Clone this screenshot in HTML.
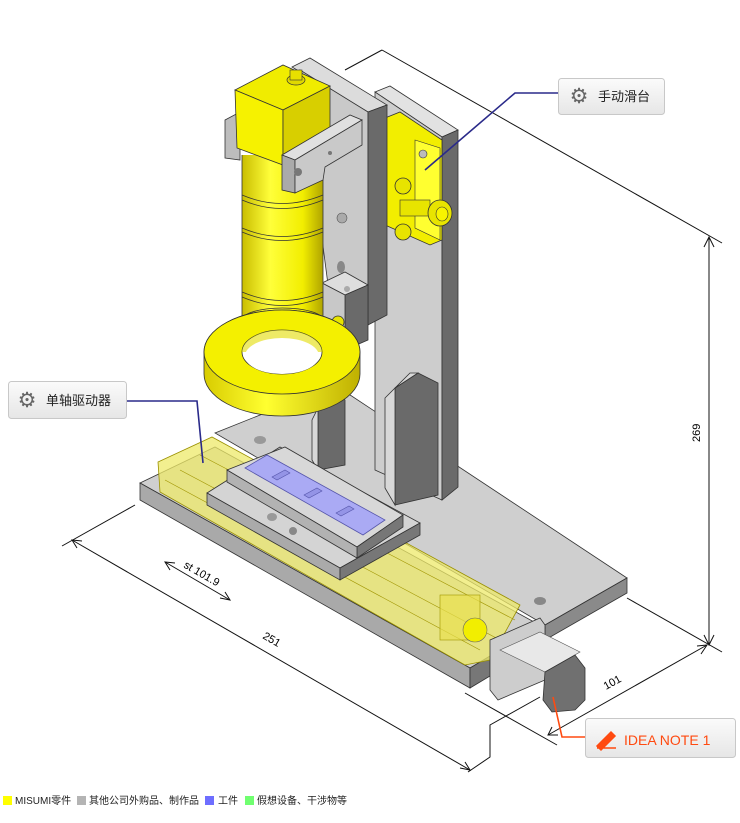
<!DOCTYPE html>
<html><head><meta charset="utf-8"><style>
html,body{margin:0;padding:0;background:#fff}
svg{display:block}
.t{font-family:"Liberation Sans","Noto Sans CJK SC",sans-serif}
</style></head><body>
<svg width="740" height="823" viewBox="0 0 740 823" xmlns="http://www.w3.org/2000/svg">
<defs>
<linearGradient id="cyl" x1="0" x2="1" y1="0" y2="0">
<stop offset="0" stop-color="#c9bd00"/><stop offset="0.35" stop-color="#ffff3a"/><stop offset="0.75" stop-color="#f2ee00"/><stop offset="1" stop-color="#b0a400"/></linearGradient>
<linearGradient id="ring" x1="0" x2="1" y1="0" y2="0">
<stop offset="0" stop-color="#d8cc00"/><stop offset="0.4" stop-color="#ffff30"/><stop offset="1" stop-color="#bfb000"/></linearGradient>
<linearGradient id="btn" x1="0" x2="0" y1="0" y2="1"><stop offset="0" stop-color="#fbfbfb"/><stop offset="1" stop-color="#e6e6e6"/></linearGradient>
</defs>

<g stroke="#111" stroke-width="1" fill="none">
<line x1="345" y1="70" x2="382" y2="50"/>
<line x1="382" y1="50" x2="722" y2="243"/>
<line x1="709" y1="237" x2="709" y2="645"/>
<line x1="627" y1="598" x2="722" y2="652"/>
<line x1="548" y1="735" x2="707" y2="645"/>
<line x1="465" y1="693" x2="557" y2="745"/>
<line x1="135" y1="505" x2="62" y2="546"/>
<line x1="72" y1="540" x2="470" y2="770"/>
<polyline points="540,697 490,725 490,757 468,772"/>
<line x1="165" y1="562" x2="230" y2="600"/>
</g>
<g fill="none" stroke="#111" stroke-width="1">
<polyline points="704,247 709,237 714,247"/><polyline points="704,635 709,645 714,635"/>
<polyline points="697,646 707,645 701,654"/><polyline points="552,727 548,735 558,735"/>
<polyline points="77,548 72,540 82,541"/><polyline points="460,768 470,770 465,762"/>
<polyline points="170,570 165,562 175,563"/><polyline points="220,598 230,600 225,592"/>
</g>
<text class="t" font-size="11" transform="translate(700,442) rotate(-90)">269</text>
<text class="t" font-size="11" transform="translate(606,690) rotate(-29)">101</text>
<text class="t" font-size="11" transform="translate(262,638) rotate(30)">251</text>
<text class="t" font-size="11" transform="translate(183,567) rotate(30)">st 101.9</text>

<polygon points="215,433 335,385 627,578 545,625" fill="#cfcfcf" stroke="#333" stroke-width="0.8"/>
<polygon points="545,625 627,578 627,593 545,640" fill="#8a8a8a" stroke="#333" stroke-width="0.8"/>
<ellipse cx="540" cy="601" rx="6" ry="4" fill="#888"/>
<ellipse cx="260" cy="440" rx="6" ry="4" fill="#999"/>

<polygon points="375,92 390,86 458,130 442,137" fill="#e2e2e2" stroke="#333" stroke-width="0.8"/>
<polygon points="375,92 442,137 442,500 375,470" fill="#cdcdcd" stroke="#333" stroke-width="0.8"/>
<polygon points="442,137 458,130 458,487 442,500" fill="#6a6a6a" stroke="#333" stroke-width="0.8"/>
<polygon points="395,388 418,373 438,383 438,495 395,505" fill="#6a6a6a" stroke="#333" stroke-width="0.8"/>
<polygon points="395,388 418,373 410,373 385,398 385,488 395,505" fill="#d8d8d8" stroke="#333" stroke-width="0.8"/>
<polygon points="318,408 340,395 345,400 345,465 318,470" fill="#6a6a6a" stroke="#333" stroke-width="0.8"/>
<polygon points="318,408 312,420 312,460 318,470" fill="#d8d8d8" stroke="#333" stroke-width="0.8"/>

<polygon points="385,118 400,112 442,140 442,240 430,245 385,225" fill="#f2ee00" stroke="#333" stroke-width="0.8"/>
<polygon points="415,140 440,148 440,240 415,228" fill="#ffff30" stroke="#333" stroke-width="0.6"/>
<circle cx="423" cy="154" r="4" fill="#bbb" stroke="#333" stroke-width="0.6"/>
<circle cx="403" cy="186" r="8" fill="#e8e400" stroke="#333" stroke-width="0.8"/>
<circle cx="403" cy="232" r="8" fill="#e8e400" stroke="#333" stroke-width="0.8"/>
<rect x="400" y="200" width="30" height="16" fill="#e8e400" stroke="#333" stroke-width="0.6"/>
<ellipse cx="440" cy="213" rx="12" ry="13" fill="#e8e400" stroke="#333" stroke-width="0.8"/>
<ellipse cx="442" cy="214" rx="6" ry="7" fill="#f8f400" stroke="#333" stroke-width="0.6"/>

<polygon points="292,67 310,58 387,105 368,112" fill="#dcdcdc" stroke="#333" stroke-width="0.8"/>
<polygon points="300,70 368,112 368,325 330,300" fill="#c9c9c9" stroke="#333" stroke-width="0.8"/>
<polygon points="368,112 387,105 387,315 368,325" fill="#6a6a6a" stroke="#333" stroke-width="0.8"/>
<circle cx="342" cy="218" r="5" fill="#aaa" stroke="#555" stroke-width="0.6"/>
<ellipse cx="341" cy="267" rx="4" ry="6" fill="#888"/>
<polygon points="322,283 345,272 368,285 345,295" fill="#dedede" stroke="#333" stroke-width="0.8"/>
<polygon points="345,295 368,285 368,340 345,350" fill="#6a6a6a" stroke="#333" stroke-width="0.8"/>
<polygon points="322,283 345,295 345,350 322,338" fill="#c8c8c8" stroke="#333" stroke-width="0.8"/>
<circle cx="347" cy="289" r="3" fill="#aaa"/>
<circle cx="338" cy="322" r="6" fill="#e8e400" stroke="#333" stroke-width="0.8"/>

<polygon points="225,120 240,112 240,160 225,158" fill="#bdbdbd" stroke="#333" stroke-width="0.8"/>

<rect x="242" y="155" width="81" height="165" fill="url(#cyl)"/>
<ellipse cx="282.5" cy="320" rx="40.5" ry="12" fill="url(#cyl)" stroke="#333" stroke-width="0.8"/>
<line x1="242" y1="155" x2="242" y2="320" stroke="#333" stroke-width="0.8"/>
<line x1="323" y1="155" x2="323" y2="320" stroke="#333" stroke-width="0.8"/>
<g fill="none" stroke="#333" stroke-width="0.7">
<path d="M242,195 Q282,212 323,195"/><path d="M242,200 Q282,217 323,200"/>
<path d="M242,228 Q282,245 323,228"/><path d="M242,232 Q282,249 323,232"/>
<path d="M242,292 Q282,309 323,292"/><path d="M242,297 Q282,314 323,297"/>
</g>

<path d="M204,352 A78,42 0 0 1 360,352 L360,374 A78,42 0 0 1 204,374 Z" fill="url(#ring)" stroke="#333" stroke-width="0.8"/>
<ellipse cx="282" cy="352" rx="78" ry="42" fill="#f4f000" stroke="#333" stroke-width="0.8"/>
<ellipse cx="282" cy="352" rx="40" ry="22" fill="#fff" stroke="#333" stroke-width="0.8"/>
<path d="M242,352 A40,22 0 0 1 322,352" fill="#e2dc00" stroke="none" opacity="0.6"/>
<ellipse cx="282" cy="356" rx="37" ry="18" fill="#fff"/>

<polygon points="235,90 283,65 330,86 283,110" fill="#f0ec00" stroke="#333" stroke-width="0.8"/>
<polygon points="235,90 283,110 283,165 237,148" fill="#f6f200" stroke="#333" stroke-width="0.8"/>
<polygon points="283,110 330,86 330,140 283,165" fill="#d8cf00" stroke="#333" stroke-width="0.8"/>
<ellipse cx="296" cy="80" rx="9" ry="5" fill="#e0d800" stroke="#333" stroke-width="0.7"/>
<rect x="290" y="70" width="12" height="10" fill="#e8e000" stroke="#333" stroke-width="0.6"/>
<polygon points="282,155 350,115 362,120 295,160" fill="#e0e0e0" stroke="#333" stroke-width="0.8"/>
<polygon points="282,155 295,160 295,193 282,190" fill="#aaa" stroke="#333" stroke-width="0.8"/>
<polygon points="295,160 362,120 362,145 325,167 323,180 295,193" fill="#c9c9c9" stroke="#333" stroke-width="0.8"/>
<circle cx="298" cy="172" r="4" fill="#777"/>
<circle cx="330" cy="153" r="2" fill="#777"/>

<polygon points="140,483 215,447 545,628 470,668" fill="#cfcfcf" stroke="#333" stroke-width="0.8"/>
<polygon points="140,483 470,668 470,688 140,500" fill="#a9a9a9" stroke="#333" stroke-width="0.8"/>
<polygon points="470,668 490,656 490,676 470,688" fill="#777" stroke="#333" stroke-width="0.8"/>
<polygon points="158,462 212,437 520,605 490,660 465,665 160,492" fill="#eeea6a" fill-opacity="0.75" stroke="#9a9000" stroke-width="0.8"/>
<g stroke="#a09500" stroke-width="0.6" fill="none">
<line x1="165" y1="480" x2="480" y2="650"/><line x1="180" y1="470" x2="500" y2="640"/>
<line x1="200" y1="455" x2="515" y2="620"/>
<rect x="440" y="595" width="40" height="45" fill="#e8e050" fill-opacity="0.7"/>
</g>
<ellipse cx="475" cy="630" rx="12" ry="12" fill="#f2ee00" stroke="#666" stroke-width="0.6"/>

<polygon points="207,493 280,447 420,523 340,568" fill="#d4d4d4" stroke="#333" stroke-width="0.8"/>
<polygon points="207,493 340,568 340,580 207,505" fill="#aaa" stroke="#333" stroke-width="0.8"/>
<polygon points="340,568 420,523 420,535 340,580" fill="#777" stroke="#333" stroke-width="0.8"/>
<polygon points="227,470 285,447 403,515 357,547" fill="#d8d8d8" stroke="#333" stroke-width="0.8"/>
<polygon points="357,547 403,515 403,527 357,558" fill="#777" stroke="#333" stroke-width="0.8"/>
<polygon points="227,470 357,547 357,558 227,482" fill="#b2b2b2" stroke="#333" stroke-width="0.8"/>
<polygon points="245,468 267,455 385,520 363,535" fill="#aaaaf4" stroke="#5555aa" stroke-width="0.8"/>
<g fill="#9494e6" stroke="#5555aa" stroke-width="0.6">
<polygon points="272,477 285,470 290,473 277,480"/>
<polygon points="304,495 317,488 322,491 309,498"/>
<polygon points="336,513 349,506 354,509 341,516"/>
</g>
<ellipse cx="272" cy="517" rx="5" ry="4" fill="#999"/>
<circle cx="293" cy="531" r="4" fill="#888"/>

<polygon points="490,640 540,618 545,625 545,680 498,700 490,690" fill="#cdcdcd" stroke="#333" stroke-width="0.8"/>
<polygon points="500,650 540,632 580,652 545,672" fill="#e8e8e8" stroke="#555" stroke-width="0.6"/>
<polygon points="545,672 575,655 585,668 585,700 575,710 552,712 543,700" fill="#707070" stroke="#333" stroke-width="0.8"/>

<polyline points="425,170 515,93 558,93" fill="none" stroke="#2a2a8a" stroke-width="1.6"/>
<polyline points="126,401 197,401 203,463" fill="none" stroke="#2a2a8a" stroke-width="1.6"/>
<polyline points="553,697 562,737 585,737" fill="none" stroke="#ff4a10" stroke-width="1.6"/>

<rect x="558.5" y="78.5" width="106" height="36" rx="3" fill="url(#btn)" stroke="#c8c8c8"/>
<text class="t" x="579" y="103" font-size="21" fill="#666" text-anchor="middle">⚙</text>
<text class="t" x="598" y="101" font-size="13" fill="#222">手动滑台</text>
<rect x="8.5" y="381.5" width="118" height="37" rx="3" fill="url(#btn)" stroke="#c8c8c8"/>
<text class="t" x="27" y="407" font-size="21" fill="#666" text-anchor="middle">⚙</text>
<text class="t" x="46" y="405" font-size="13" fill="#222">单轴驱动器</text>
<rect x="585.5" y="718.5" width="150" height="39" rx="3" fill="url(#btn)" stroke="#c8c8c8"/>
<path d="M597,746 L611,732 L615,736 L601,750 Z M597,748 L616,748" fill="#ff4a10" stroke="#ff4a10" stroke-width="1.5"/>
<text class="t" x="624" y="745" font-size="14" fill="#ff4a10">IDEA NOTE 1</text>

<rect x="3" y="796" width="9" height="9" fill="#ffff00"/>
<text class="t" x="15" y="804" font-size="10" fill="#222">MISUMI零件</text>
<rect x="77" y="796" width="9" height="9" fill="#b4b4b4"/>
<text class="t" x="89" y="804" font-size="10" fill="#222">其他公司外购品、制作品</text>
<rect x="205" y="796" width="9" height="9" fill="#6e6eff"/>
<text class="t" x="218" y="804" font-size="10" fill="#222">工件</text>
<rect x="245" y="796" width="9" height="9" fill="#70ff70"/>
<text class="t" x="257" y="804" font-size="10" fill="#222">假想设备、干涉物等</text>
</svg>
</body></html>
